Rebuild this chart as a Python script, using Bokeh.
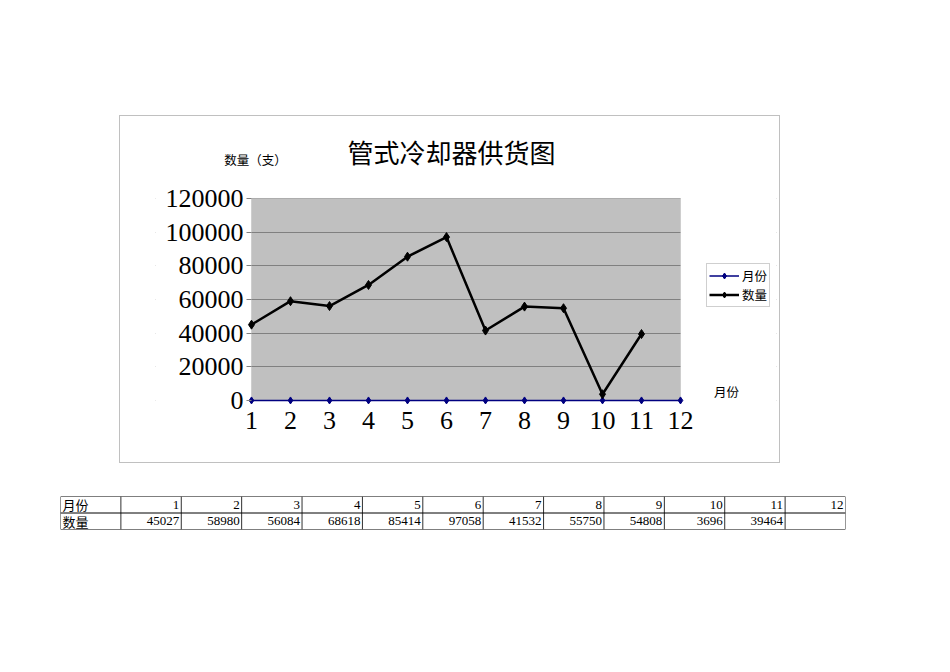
from bokeh.plotting import figure
from bokeh.models import (Range1d, Legend, LegendItem, Label, FixedTicker, Spacer,
                          NumeralTickFormatter, BoxAnnotation)
from bokeh.layouts import column, row
from bokeh.embed import file_html
from bokeh.resources import INLINE
from bokeh.core.properties import value

# ---- data ----
title_text = "管式冷却器供货图"
y_axis_title = "数量（支）"
x_axis_title = "月份"
series_names = ["月份", "数量"]
months = [1, 2, 3, 4, 5, 6, 7, 8, 9, 10, 11, 12]
quantities = [45027, 58980, 56084, 68618, 85414, 97058, 41532, 55750, 54808, 3696, 39464]
y_ticks = [0, 20000, 40000, 60000, 80000, 100000, 120000]

SERIF = "Liberation Serif"
CJK = "Noto Sans CJK SC"
PLOT_GRAY = "#c0c0c0"
EDGE_GRAY = "#808080"

# ---- chart ----
# The frame is widened around the plot area so that the title, legend and
# axis titles can sit inside it; the plot area itself is drawn as a gray box.
x_pad = 2.4615
y_top_pad = 40400
y_bot_pad = 23800
p = figure(width=661, height=348,
           x_range=Range1d(months[0] - x_pad, months[-1] + x_pad),
           y_range=Range1d(y_ticks[0] - y_bot_pad, y_ticks[-1] + y_top_pad),
           output_backend="svg", toolbar_location=None,
           min_border_left=35, min_border_right=5, min_border_top=14, min_border_bottom=24)
p.styles = {"border": "1px solid #c0c0c0"}
p.background_fill_color = "white"
p.border_fill_color = "white"
p.outline_line_color = None
p.xgrid.visible = False
p.ygrid.ticker = FixedTicker(ticks=y_ticks)
p.ygrid.grid_line_color = EDGE_GRAY

# plot area (below grid), masks around it (above grid), outline
p.add_layout(BoxAnnotation(left=months[0], right=months[-1], bottom=y_ticks[0], top=y_ticks[-1],
                           fill_color=PLOT_GRAY, fill_alpha=1, line_color=None, level="image"))
for kw in (dict(right=months[0]), dict(left=months[-1]),
           dict(bottom=y_ticks[-1]), dict(top=y_ticks[0])):
    p.add_layout(BoxAnnotation(fill_color="white", fill_alpha=1, line_color=None,
                               level="underlay", **kw))
p.add_layout(BoxAnnotation(left=months[0], right=months[-1], bottom=y_ticks[0], top=y_ticks[-1],
                           fill_alpha=0, line_color=EDGE_GRAY, line_width=1, level="underlay"))

p.yaxis.ticker = FixedTicker(ticks=y_ticks)
p.yaxis.formatter = NumeralTickFormatter(format="0")
p.yaxis.fixed_location = months[0]
p.xaxis.ticker = FixedTicker(ticks=months)
p.xaxis.fixed_location = y_ticks[0]
for ax in (p.xaxis, p.yaxis):
    ax.major_label_text_font = SERIF
    ax.major_label_text_font_size = "26px"
    ax.major_label_text_color = "black"
    ax.axis_line_color = None
    ax.major_tick_line_color = EDGE_GRAY
    ax.major_tick_in = 0
    ax.major_tick_out = 5
    ax.minor_tick_line_color = None
p.xaxis.major_tick_out = 0
p.xaxis.major_tick_line_color = None
p.yaxis.major_label_standoff = 3
p.xaxis.major_label_standoff = 12

r1l = p.line(months, months, line_color="#000080", line_width=1.5)
r1m = p.scatter(months, months, marker="diamond", size=7, color="#000080")
r2l = p.line(months[:len(quantities)], quantities, line_color="black", line_width=2.5)
r2m = p.scatter(months[:len(quantities)], quantities, marker="diamond", size=9, color="black")

legend = Legend(items=[LegendItem(label=series_names[0], renderers=[r1l, r1m]),
                       LegendItem(label=series_names[1], renderers=[r2l, r2m])],
                location=(551, 133))
legend.label_text_font = CJK
legend.label_text_font_size = "12.5px"
legend.label_text_color = "black"
legend.label_height = 15
legend.glyph_height = 15
legend.glyph_width = 30
legend.label_standoff = 3
legend.spacing = 0
legend.padding = 2
legend.margin = 0
legend.border_line_color = "#a0a0a0"
legend.background_fill_color = "white"
legend.background_fill_alpha = 1.0
p.add_layout(legend)

p.add_layout(Label(x=330, y=34, x_units="canvas", y_units="canvas", text=title_text,
                   text_font=CJK, text_font_size="26px", text_color="black",
                   text_align="center", text_baseline="middle"))
p.add_layout(Label(x=134, y=42, x_units="canvas", y_units="canvas", text=y_axis_title,
                   text_font=CJK, text_font_size="12.5px", text_color="black",
                   text_align="center", text_baseline="middle"))
p.add_layout(Label(x=605, y=274, x_units="canvas", y_units="canvas", text=x_axis_title,
                   text_font=CJK, text_font_size="12.5px", text_color="black",
                   text_align="center", text_baseline="middle"))

# ---- table ----
ncols = len(months) + 1
t = figure(width=787, height=35, x_range=Range1d(0, ncols), y_range=Range1d(0, 2),
           output_backend="svg", toolbar_location=None,
           min_border_left=1, min_border_right=1, min_border_top=1, min_border_bottom=1)
t.axis.visible = False
t.grid.visible = False
t.outline_line_color = None
t.background_fill_color = "white"
edges = list(range(ncols + 1))
t.segment(x0=edges, y0=[0] * len(edges), x1=edges, y1=[2] * len(edges),
          line_color="#303030", line_width=1)
t.segment(x0=[0, 0, 0], y0=[0, 1, 2], x1=[ncols] * 3, y1=[0, 1, 2],
          line_color="black", line_width=1)
t.text(x=[0, 0], y=[1.5, 0.5], text=[series_names[0], series_names[1]], x_offset=2,
       text_baseline="middle", text_font=value(CJK), text_font_size="13px")
t.text(x=[m + 1 for m in months], y=[1.5] * len(months), text=[str(m) for m in months],
       x_offset=-2, text_align="right", text_baseline="middle",
       text_font=value(SERIF), text_font_size="13px")
t.text(x=[m + 1 for m in months[:len(quantities)]], y=[0.5] * len(quantities),
       text=[str(q) for q in quantities], x_offset=-2, text_align="right",
       text_baseline="middle", text_font=value(SERIF), text_font_size="13px")

layout = column(Spacer(height=115, width=10),
                row(Spacer(width=119, height=10), p),
                Spacer(height=32, width=10),
                row(Spacer(width=59, height=10), t))

open("out.html", "w").write(file_html(layout, INLINE))
